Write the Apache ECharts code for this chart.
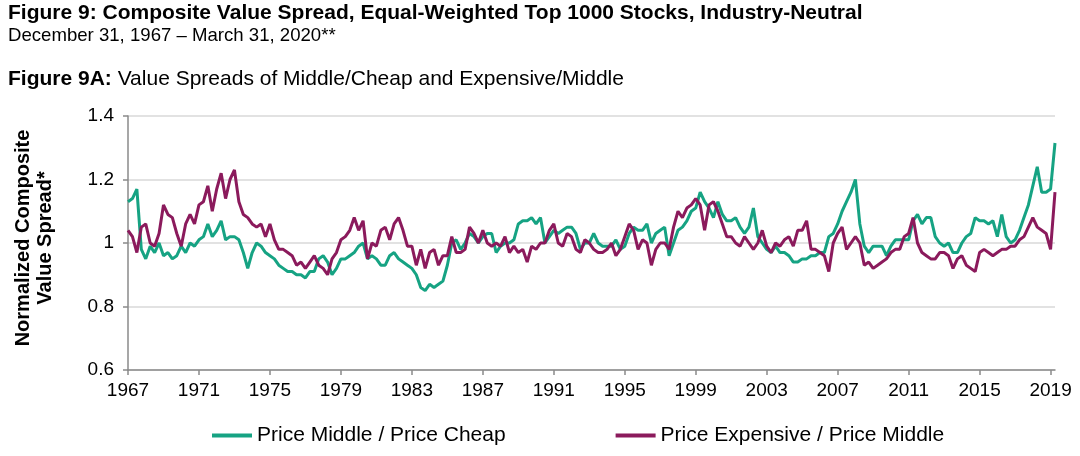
<!DOCTYPE html>
<html><head><meta charset="utf-8">
<script src="https://cdn.jsdelivr.net/npm/echarts/dist/echarts.min.js"></script>
<style>html,body{margin:0;padding:0;background:#fff}#c{width:1080px;height:456px}</style>
</head><body><div id="c"></div>
<script>
const tickLabels = ['1967','1971','1975','1979','1983','1987','1991','1995','1999','2003','2007','2011','2015','2019'];
const yTickLabels = ['0.6','0.8','1','1.2','1.4'];
const seriesNames = ['Price Middle / Price Cheap','Price Expensive / Price Middle'];
// quarterly readings, Dec 1967 .. Mar 2020
const middleCheap = [
1.13,1.14,1.17,0.98,0.95,0.99,0.97,1.00,0.96,0.97,
0.95,0.96,0.99,0.97,1.00,0.99,1.01,1.02,1.06,1.02,
1.04,1.07,1.01,1.02,1.02,1.01,0.97,0.92,0.97,1.00,
0.99,0.97,0.96,0.95,0.93,0.92,0.91,0.91,0.90,0.90,
0.89,0.91,0.91,0.95,0.96,0.94,0.90,0.92,0.95,0.95,
0.96,0.97,0.99,1.00,0.95,0.96,0.95,0.93,0.93,0.96,
0.97,0.95,0.94,0.93,0.92,0.90,0.86,0.85,0.87,0.86,
0.87,0.88,0.93,1.00,1.01,0.98,1.00,1.03,1.02,1.00,
1.02,1.03,1.03,0.97,0.99,1.00,1.00,1.01,1.06,1.07,
1.07,1.08,1.06,1.08,1.00,1.02,1.04,1.03,1.04,1.05,
1.05,1.03,0.98,1.00,1.00,1.03,1.00,0.99,0.99,0.99,
1.01,0.98,0.99,1.03,1.05,1.04,1.04,1.06,1.00,1.03,
1.04,1.05,0.96,1.00,1.04,1.05,1.07,1.10,1.11,1.16,
1.13,1.11,1.08,1.13,1.09,1.07,1.07,1.08,1.05,1.03,
1.05,1.11,1.02,1.00,0.98,0.97,0.99,0.97,0.97,0.96,
0.94,0.94,0.95,0.95,0.96,0.96,0.97,0.97,1.02,1.03,
1.06,1.10,1.13,1.16,1.20,1.06,0.99,0.97,0.99,0.99,
0.99,0.96,0.99,1.01,1.01,1.01,1.01,1.07,1.09,1.06,
1.08,1.08,1.02,1.00,0.99,1.00,0.97,0.97,1.00,1.02,
1.03,1.08,1.07,1.07,1.06,1.07,1.02,1.09,1.02,1.00,
1.01,1.04,1.08,1.12,1.18,1.24,1.16,1.16,1.17,1.315
];
const expensiveMiddle = [
1.04,1.02,0.97,1.05,1.06,1.00,0.99,1.03,1.12,1.09,
1.08,1.03,0.99,1.06,1.09,1.06,1.12,1.13,1.18,1.10,
1.17,1.22,1.14,1.20,1.23,1.13,1.09,1.08,1.06,1.05,
1.06,1.02,1.06,1.01,0.98,0.98,0.97,0.96,0.93,0.94,
0.92,0.94,0.96,0.93,0.92,0.90,0.95,0.97,1.01,1.02,
1.04,1.08,1.04,1.07,0.95,1.00,0.99,1.04,1.05,1.01,
1.06,1.08,1.04,0.99,0.99,0.93,0.98,0.92,0.97,0.98,
0.93,0.96,0.96,1.02,0.97,0.97,0.98,1.05,1.03,1.00,
1.04,1.00,0.99,1.00,0.99,1.02,0.97,0.99,0.97,0.98,
0.94,0.99,0.98,1.00,1.00,1.04,1.06,1.00,0.99,1.03,
1.02,0.98,0.97,1.01,1.00,0.98,0.97,0.97,0.98,1.00,
0.96,0.98,1.02,1.06,1.04,0.98,1.01,1.00,0.93,0.98,
1.00,1.00,0.98,1.05,1.10,1.08,1.11,1.12,1.14,1.12,
1.04,1.12,1.13,1.10,1.06,1.02,1.02,1.00,0.99,1.02,
1.00,0.98,1.00,1.04,0.99,0.97,1.00,0.99,1.01,1.02,
0.99,1.04,1.04,1.07,0.98,0.98,0.97,0.96,0.91,1.00,
1.03,1.05,0.98,1.00,1.02,1.00,0.93,0.94,0.92,0.93,
0.94,0.95,0.97,0.98,0.98,1.02,1.03,1.08,1.00,0.97,
0.96,0.95,0.95,0.97,0.97,0.96,0.92,0.95,0.96,0.93,
0.92,0.91,0.97,0.98,0.97,0.96,0.97,0.98,0.98,0.99,
0.99,1.01,1.02,1.05,1.08,1.05,1.04,1.03,0.98,1.16
];
const quarters = [];
for (let q = 0; q < middleCheap.length; q++) {
  const m = 11 + 3 * q;
  quarters.push((1967 + Math.floor(m / 12)) + '-' + String(m % 12 + 1).padStart(2, '0'));
}
const FONT = '"Liberation Sans", Arial, sans-serif';
const chart = echarts.init(document.getElementById('c'), null, {renderer: 'canvas'});
chart.setOption({
  animation: false,
  backgroundColor: '#fff',
  textStyle: {fontFamily: FONT},
  title: [
    {text: 'Figure 9: Composite Value Spread, Equal-Weighted Top 1000 Stocks, Industry-Neutral', left: 8, top: 1, padding: 0,
     textStyle: {fontFamily: FONT, fontSize: 21, fontWeight: 'bold', color: '#000', lineHeight: 24}},
    {text: 'December 31, 1967 \u2013 March 31, 2020**', left: 8, top: 25, padding: 0,
     textStyle: {fontFamily: FONT, fontSize: 18.6, fontWeight: 'normal', color: '#000', lineHeight: 22}},
    {text: '{b|Figure 9A:} Value Spreads of Middle/Cheap and Expensive/Middle', left: 8, top: 67, padding: 0,
     textStyle: {fontFamily: FONT, fontSize: 21, fontWeight: 'normal', color: '#000', lineHeight: 24,
       rich: {b: {fontFamily: FONT, fontSize: 21, fontWeight: 'bold', color: '#000', lineHeight: 24}}}}
  ],
  grid: {left: 128, right: 25, top: 116, bottom: 86},
  legend: {
    data: seriesNames, left: 212, top: 425, padding: 0, itemGap: 110,
    itemWidth: 40, itemHeight: 4, icon: 'rect', itemStyle: {borderWidth: 0},
    textStyle: {fontFamily: FONT, fontSize: 21, color: '#000', padding: [0, 0, 0, 0]}
  },
  xAxis: {
    type: 'category', data: quarters, boundaryGap: false,
    axisLine: {lineStyle: {color: '#8a8a8a', width: 1.5}},
    axisTick: {interval: 15, length: 5, lineStyle: {color: '#8a8a8a', width: 1.5}},
    axisLabel: {interval: 15, margin: 11, color: '#000', fontSize: 19, fontFamily: FONT,
      formatter: function (v) { const i = quarters.indexOf(v); return tickLabels[Math.round(i / 16)]; }},
    splitLine: {show: false}
  },
  yAxis: {
    type: 'value', min: 0.6, max: 1.4, interval: 0.2,
    name: 'Normalized Composite\nValue Spread*', nameLocation: 'middle', nameGap: 72,
    nameTextStyle: {fontFamily: FONT, fontSize: 20, fontWeight: 'bold', color: '#000', lineHeight: 22, padding: [0, 0, 0, 10]},
    axisLine: {show: true, lineStyle: {color: '#8a8a8a', width: 1.5}},
    axisTick: {show: true, length: 5, lineStyle: {color: '#8a8a8a', width: 1.5}},
    axisLabel: {margin: 14, color: '#000', fontSize: 19, fontFamily: FONT,
      formatter: function (v) { return yTickLabels[Math.round((v - 0.6) / 0.2)]; }},
    splitLine: {lineStyle: {color: '#d9d9d9', width: 1.5}}
  },
  series: [
    {name: seriesNames[0], type: 'line', data: middleCheap, symbol: 'none', color: '#16a383',
     lineStyle: {width: 3, color: '#16a383'}},
    {name: seriesNames[1], type: 'line', data: expensiveMiddle, symbol: 'none', color: '#8b1a5c',
     lineStyle: {width: 3, color: '#8b1a5c'}}
  ]
});
</script>
</body></html>
